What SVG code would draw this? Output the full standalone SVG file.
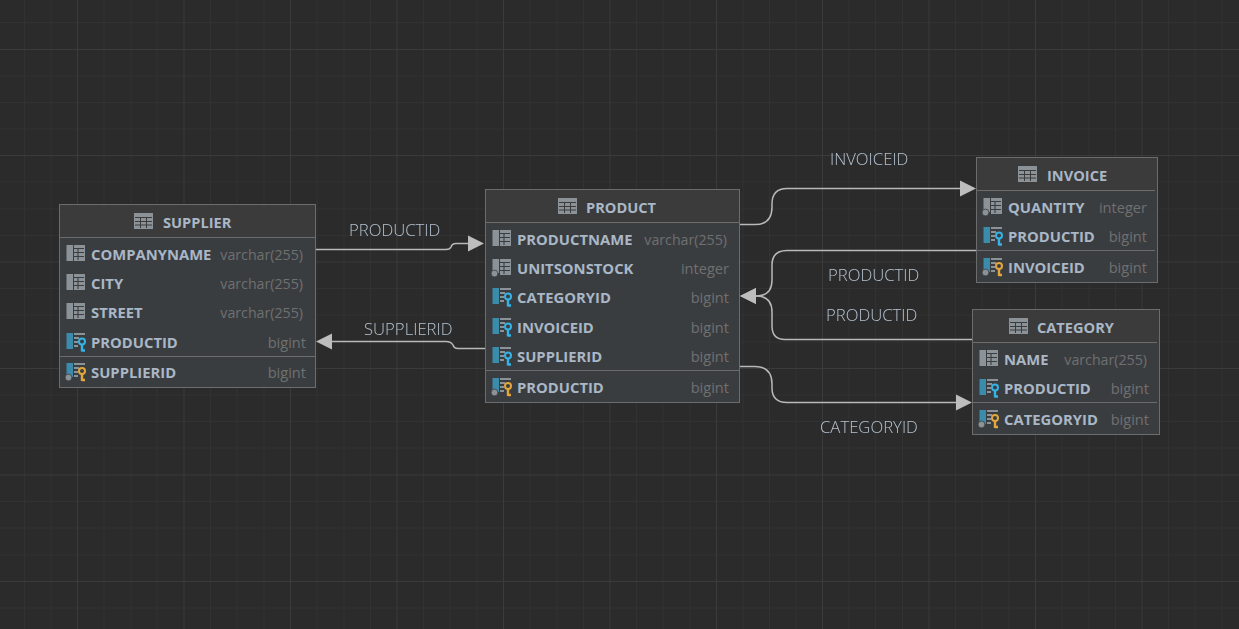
<svg xmlns="http://www.w3.org/2000/svg" xmlns:xlink="http://www.w3.org/1999/xlink" width="1239" height="629" viewBox="0 0 1239 629">
<style>
.minor{stroke:#323232;stroke-width:1;fill:none}
.major{stroke:#3b3b3b;stroke-width:1;fill:none}
.box{fill:#3a3d40;stroke:#6c6c6c;stroke-width:1}
.head{fill:#3b3b3b}
.sep{stroke:#6c6c6c;stroke-width:1.2;fill:none}
text{font-family:"Open Sans","Noto Sans","Liberation Sans",sans-serif}
.title{font-weight:700;font-size:14.6px;fill:#a9b7c6}
.col{font-weight:700;font-size:14.8px;fill:#a9b7c6}
.type{font-size:14.2px;fill:#6f7070;text-anchor:end}
.big{font-size:14.6px}
.lbl{font-weight:300;font-size:16.7px;fill:#b4c2d0}
.conn{fill:none;stroke:#b9b9b9;stroke-width:1.5}
.dot{fill:#8c9398;stroke:#3a3d40;stroke-width:.8}
</style>
<defs>
<filter id="flat" x="0" y="0" width="1" height="1" filterUnits="objectBoundingBox"><feOffset dx="0" dy="0"/></filter>
<marker id="arr" markerUnits="userSpaceOnUse" markerWidth="17" markerHeight="18" refX="1" refY="9" orient="auto"><path d="M1 1L17 9L1 17Z" fill="#bdbdbd"/></marker>
<g id="tbl"><rect x="0" y="0" width="19" height="16" fill="#8c9398"/><path d="M1 4.500H18M1 8.500H18M1 12H18M6.500 4V15M12.500 4V15" stroke="#3b3b3b" stroke-width="1" fill="none"/></g>
<g id="grid"><rect x="8" y="0" width="11" height="16" fill="#8c9398"/><path d="M8 3.500H18M8 7.500H18M8 11.500H18M12 3V15" stroke="#3a3d40" stroke-width="1.100" fill="none"/></g>
<g id="c"><rect x="0.500" y="0" width="6.500" height="16" fill="#8c9398"/><use href="#grid"/></g>
<g id="cn"><rect x="0.500" y="0" width="6.500" height="14" fill="#8c9398"/><use href="#grid"/><circle class="dot" cx="2.500" cy="14.500" r="3.400"/></g>
<g id="bars"><path d="M8 1H19M8 5H13M8 9H12M8 13H12" stroke="#8c9398" stroke-width="2" fill="none"/></g>
<g id="fk"><rect x="0.500" y="0" width="6.500" height="16" fill="#3b8bab"/><use href="#bars"/><circle cx="16" cy="8.500" r="3" fill="#3a3d40" stroke="#35b3e6" stroke-width="2"/><path d="M16 11V18.500M16 17.500H19" stroke="#35b3e6" stroke-width="2.400" fill="none"/></g>
<g id="pk"><rect x="0.500" y="0" width="6.500" height="14" fill="#3b8bab"/><circle class="dot" cx="2.500" cy="14.500" r="3.400"/><use href="#bars"/><circle cx="16" cy="8" r="3" fill="#3a3d40" stroke="#e2a63c" stroke-width="2"/><path d="M16 10.500V18M16 17H19" stroke="#e2a63c" stroke-width="2.400" fill="none"/></g>
</defs>
<rect id="background" width="1239" height="629" fill="#2b2b2b"/>
<g id="grid-lines">
<path class="minor" d="M24.500 0V629M51 0V629M104 0V629M131 0V629M157 0V629M210.500 0V629M237 0V629M264 0V629M317 0V629M344 0V629M370.500 0V629M423.500 0V629M450 0V629M477 0V629M530 0V629M557 0V629M583.500 0V629M636.500 0V629M663 0V629M690 0V629M743 0V629M769.500 0V629M796 0V629M849 0V629M875.500 0V629M902.500 0V629M955.500 0V629M982 0V629M1009 0V629M1062 0V629M1089 0V629M1115.500 0V629M1168.500 0V629M1195 0V629M1222 0V629M0 22.500H1239M0 76H1239M0 102.500H1239M0 129H1239M0 182H1239M0 209H1239M0 235.500H1239M0 288.500H1239M0 315H1239M0 342H1239M0 395H1239M0 421.500H1239M0 448H1239M0 501.500H1239M0 528H1239M0 555H1239M0 608H1239"/>
<path class="major" d="M77.500 0V629M184 0V629M290.500 0V629M397 0V629M503.500 0V629M610 0V629M716.500 0V629M822.500 0V629M929 0V629M1035.500 0V629M1142 0V629M0 49.500H1239M0 155.500H1239M0 262H1239M0 368.500H1239M0 475H1239M0 581.500H1239"/>
</g>
<g id="connectors">
<path class="conn" marker-end="url(#arr)" d="M315.500 249.500H446Q450 249.500 451 247Q452 243.500 456 243.500H468"/>
<path class="conn" marker-end="url(#arr)" d="M485.500 348.500H458Q454 348.500 453 345Q451 341.500 446 341.500H332"/>
<path class="conn" marker-end="url(#arr)" d="M739.500 224.500H755Q772 224.500 772 207V204Q772 188.500 787 188.500H960"/>
<path class="conn" marker-end="url(#arr)" d="M976.500 250.500H787Q772 250.500 772 265V280Q772 296 756 296"/>
<path class="conn" marker-end="url(#arr)" d="M972.500 339.500H785Q772 339.500 772 326V312Q772 296 756 296"/>
<path class="conn" marker-end="url(#arr)" d="M739.500 366.500H755Q772 366.500 772 384V388Q772 402.500 787 402.500H956"/>
</g>
<g id="connector-labels" filter="url(#flat)">
<text class="lbl" x="349" y="236">PRODUCTID</text>
<text class="lbl" x="364" y="334.500">SUPPLIERID</text>
<text class="lbl" x="830" y="165">INVOICEID</text>
<text class="lbl" x="828" y="281">PRODUCTID</text>
<text class="lbl" x="826" y="320.500">PRODUCTID</text>
<text class="lbl" x="820" y="432.500">CATEGORYID</text>
</g>
<g id="node-supplier">
<rect class="box" x="59.500" y="204.500" width="256" height="183"/>
<rect class="head" x="60" y="205" width="255" height="32.500"/>
<path class="sep" d="M60 237.500H315M60 356.500H315"/>
<use href="#tbl" x="134" y="213"/>
<text class="title" x="163" y="227.500">SUPPLIER</text>
<use href="#c" x="66" y="245"/><text class="col" x="91" y="260">COMPANYNAME</text><text class="type" x="303" y="260">varchar(255)</text>
<use href="#c" x="66" y="274"/><text class="col" x="91" y="289">CITY</text><text class="type" x="303" y="289">varchar(255)</text>
<use href="#c" x="66" y="303"/><text class="col" x="91" y="318">STREET</text><text class="type" x="303" y="318">varchar(255)</text>
<use href="#fk" x="66" y="333"/><text class="col" x="91" y="347.500">PRODUCTID</text><text class="type big" x="306" y="347.500">bigint</text>
<use href="#pk" x="66" y="363"/><text class="col" x="91" y="377.500">SUPPLIERID</text><text class="type big" x="306" y="377.500">bigint</text>
</g>
<g id="node-product">
<rect class="box" x="485.500" y="189.500" width="254" height="213"/>
<rect class="head" x="486" y="190" width="253" height="32.500"/>
<path class="sep" d="M486 222.500H739M486 370.500H739"/>
<use href="#tbl" x="558" y="198"/>
<text class="title" x="586" y="212.500">PRODUCT</text>
<use href="#c" x="492" y="230"/><text class="col" x="517" y="245">PRODUCTNAME</text><text class="type" x="727" y="245">varchar(255)</text>
<use href="#cn" x="492" y="259"/><text class="col" x="517" y="274">UNITSONSTOCK</text><text class="type big" x="729" y="274">integer</text>
<use href="#fk" x="492" y="288"/><text class="col" x="517" y="303">CATEGORYID</text><text class="type big" x="729" y="303">bigint</text>
<use href="#fk" x="492" y="318"/><text class="col" x="517" y="332.500">INVOICEID</text><text class="type big" x="729" y="332.500">bigint</text>
<use href="#fk" x="492" y="347"/><text class="col" x="517" y="361.500">SUPPLIERID</text><text class="type big" x="729" y="361.500">bigint</text>
<use href="#pk" x="492" y="378"/><text class="col" x="517" y="392.500">PRODUCTID</text><text class="type big" x="729" y="392.500">bigint</text>
</g>
<g id="node-invoice">
<rect class="box" x="976.500" y="157.500" width="181" height="125"/>
<rect class="head" x="977" y="158" width="180" height="32.500"/>
<path class="sep" d="M977 190.500H1155M977 250.500H1155"/>
<use href="#tbl" x="1018" y="166"/>
<text class="title" x="1047" y="180.500">INVOICE</text>
<use href="#cn" x="983" y="198"/><text class="col" x="1008" y="212.500">QUANTITY</text><text class="type big" x="1147" y="212.500">integer</text>
<use href="#fk" x="983" y="227"/><text class="col" x="1008" y="241.500">PRODUCTID</text><text class="type big" x="1147" y="241.500">bigint</text>
<use href="#pk" x="983" y="258"/><text class="col" x="1008" y="272.500">INVOICEID</text><text class="type big" x="1147" y="272.500">bigint</text>
</g>
<g id="node-category">
<rect class="box" x="972.500" y="309.500" width="187" height="125"/>
<rect class="head" x="973" y="310" width="186" height="32.500"/>
<path class="sep" d="M973 342.500H1157M973 402.500H1157"/>
<use href="#tbl" x="1009" y="318"/>
<text class="title" x="1037" y="332.500">CATEGORY</text>
<use href="#c" x="979" y="350"/><text class="col" x="1004" y="365">NAME</text><text class="type" x="1147" y="365">varchar(255)</text>
<use href="#fk" x="979" y="379"/><text class="col" x="1004" y="394">PRODUCTID</text><text class="type big" x="1149" y="394">bigint</text>
<use href="#pk" x="979" y="410"/><text class="col" x="1004" y="424.500">CATEGORYID</text><text class="type big" x="1149" y="424.500">bigint</text>
</g>
</svg>
